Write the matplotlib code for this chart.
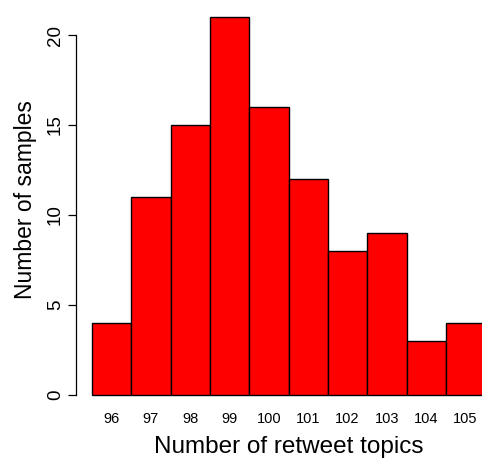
import matplotlib
matplotlib.use("Agg")
import matplotlib.pyplot as plt

plt.rcParams['font.family'] = ['Liberation Sans', 'DejaVu Sans']

# counts per number of retweet topics
topics = [96, 97, 98, 99, 100, 101, 102, 103, 104, 105]
samples = [4, 11, 15, 21, 16, 12, 8, 9, 3, 4]
yticks = [0, 5, 10, 15, 20]

fig = plt.figure(figsize=(4.82, 4.63), dpi=100)
ax = fig.add_axes([0.1577, 0.1274, 0.8423, 0.8553])

ax.bar(topics, samples, width=1.0, color='#ff0000', edgecolor='black', linewidth=1.0)

ax.set_xlim(95.093, 105.42)
ax.set_ylim(-0.5, 21.5)

ax.set_xticks(topics)
ax.set_xticklabels([str(t) for t in topics], fontsize=10.5)
ax.tick_params(axis='x', length=0, pad=6)

ax.set_yticks(yticks)
ax.set_yticklabels([str(v) for v in yticks], fontsize=13.5, rotation=90, va='center')
ax.tick_params(axis='y', length=5.8, width=0.9, pad=3)

for s in ['top', 'right', 'bottom']:
    ax.spines[s].set_visible(False)
ax.spines['left'].set_bounds(0, 20)
ax.spines['left'].set_linewidth(0.9)

ax.set_xlabel('Number of retweet topics', fontsize=17.5)
ax.xaxis.label.set_va('baseline')
ax.xaxis.set_label_coords(0.5985, 0.0216, transform=fig.transFigure)

ax.set_ylabel('Number of samples', fontsize=16.5)
ax.yaxis.label.set_va('baseline')
ax.yaxis.set_label_coords(0.0664, 0.568, transform=fig.transFigure)

fig.savefig('out.png', dpi=100)
